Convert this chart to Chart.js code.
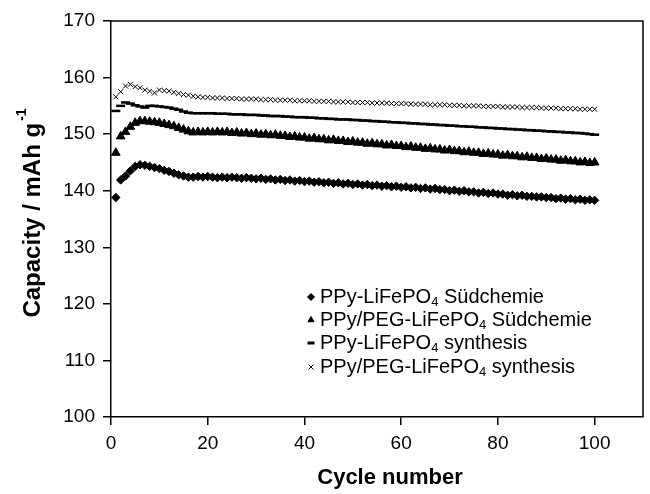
<!DOCTYPE html>
<html>
<head>
<meta charset="utf-8">
<script src="https://cdn.jsdelivr.net/npm/chart.js@4.4.0/dist/chart.umd.min.js"></script>
<style>
  html, body { margin: 0; padding: 0; background: #fff; }
  #wrap { width: 650px; height: 494px; }
</style>
</head>
<body>
<div id="wrap"><canvas id="mycanvas" width="650" height="494"></canvas></div>
<script>
var cycles = [1,2,3,4,5,6,7,8,9,10,11,12,13,14,15,16,17,18,19,20,
  21,22,23,24,25,26,27,28,29,30,31,32,33,34,35,36,37,38,39,40,
  41,42,43,44,45,46,47,48,49,50,51,52,53,54,55,56,57,58,59,60,
  61,62,63,64,65,66,67,68,69,70,71,72,73,74,75,76,77,78,79,80,
  81,82,83,84,85,86,87,88,89,90,91,92,93,94,95,96,97,98,99,100];

// PPy-LiFePO4 Suedchemie (diamonds)
var ppySud = [138.8,141.9,142.6,143.5,144.3,144.6,144.5,144.3,144.1,143.9,
  143.6,143.4,143.1,142.8,142.6,142.4,142.4,142.5,142.4,142.5,
  142.4,142.3,142.4,142.3,142.4,142.3,142.2,142.3,142.2,142.1,
  142.2,142.0,142.1,141.9,142.0,141.8,141.9,141.7,141.8,141.6,
  141.7,141.5,141.6,141.4,141.5,141.3,141.4,141.2,141.3,141.1,
  141.2,141.0,141.1,140.9,141.0,140.8,140.9,140.7,140.8,140.6,
  140.7,140.5,140.6,140.4,140.5,140.3,140.4,140.2,140.2,140.0,
  140.1,139.9,140.0,139.8,139.8,139.6,139.7,139.5,139.6,139.4,
  139.4,139.2,139.3,139.1,139.2,139.0,139.0,138.9,138.9,138.8,
  138.8,138.6,138.7,138.5,138.6,138.4,138.5,138.3,138.4,138.3];

// PPy/PEG-LiFePO4 Suedchemie (triangles)
var pegSud = [146.7,149.6,150.4,151.3,152.0,152.3,152.3,152.2,152.1,152.0,
  151.8,151.6,151.4,151.1,150.8,150.5,150.3,150.4,150.3,150.4,
  150.3,150.4,150.3,150.4,150.2,150.3,150.1,150.2,150.0,150.1,
  149.9,150.0,149.8,149.9,149.7,149.7,149.5,149.6,149.4,149.4,
  149.2,149.3,149.1,149.1,148.9,149.0,148.8,148.8,148.6,148.7,
  148.5,148.5,148.3,148.4,148.2,148.2,148.0,148.1,147.9,147.9,
  147.7,147.8,147.6,147.6,147.4,147.5,147.3,147.3,147.1,147.2,
  147.0,147.0,146.8,146.9,146.7,146.7,146.5,146.6,146.4,146.4,
  146.2,146.3,146.1,146.1,145.9,146.0,145.8,145.8,145.6,145.7,
  145.5,145.5,145.3,145.4,145.2,145.2,145.0,145.1,144.9,145.0];

// PPy-LiFePO4 synthesis (dashes)
var ppySyn = [154.1,155.0,155.6,155.4,155.1,154.9,154.7,155.0,155.0,154.9,
  154.8,154.7,154.5,154.3,154.0,153.8,153.7,153.7,153.7,153.7,
  153.7,153.6,153.6,153.6,153.5,153.5,153.5,153.4,153.4,153.4,
  153.3,153.3,153.2,153.2,153.2,153.1,153.1,153.0,153.0,153.0,
  152.9,152.9,152.8,152.8,152.7,152.7,152.6,152.6,152.6,152.5,
  152.5,152.4,152.4,152.3,152.3,152.2,152.2,152.1,152.1,152.0,
  152.0,151.9,151.9,151.8,151.8,151.7,151.7,151.6,151.6,151.5,
  151.5,151.4,151.4,151.3,151.3,151.2,151.2,151.1,151.1,151.0,
  151.0,150.9,150.9,150.8,150.8,150.7,150.7,150.6,150.6,150.5,
  150.5,150.4,150.4,150.3,150.3,150.2,150.2,150.1,150.0,149.9];

// PPy/PEG-LiFePO4 synthesis (crosses)
var pegSyn = [156.6,157.5,158.5,158.8,158.4,158.2,157.8,157.6,157.3,157.8,
  157.7,157.6,157.4,157.2,157.0,156.9,156.7,156.6,156.5,156.5,
  156.4,156.4,156.4,156.3,156.3,156.3,156.2,156.2,156.2,156.2,
  156.1,156.1,156.1,156.0,156.0,156.0,156.0,155.9,155.9,155.9,
  155.9,155.8,155.8,155.8,155.8,155.7,155.7,155.7,155.7,155.6,
  155.6,155.6,155.6,155.5,155.5,155.5,155.5,155.4,155.4,155.4,
  155.4,155.3,155.3,155.3,155.3,155.2,155.2,155.2,155.2,155.1,
  155.1,155.1,155.0,155.0,155.0,155.0,154.9,154.9,154.9,154.9,
  154.8,154.8,154.8,154.8,154.7,154.7,154.7,154.7,154.6,154.6,
  154.6,154.6,154.5,154.5,154.5,154.5,154.4,154.4,154.4,154.4];

var xTicks = [0, 20, 40, 60, 80, 100];
var yTicks = [100, 110, 120, 130, 140, 150, 160, 170];

var legendNames = [
  ['PPy-LiFePO', '4', ' S\u00fcdchemie'],
  ['PPy/PEG-LiFePO', '4', ' S\u00fcdchemie'],
  ['PPy-LiFePO', '4', ' synthesis'],
  ['PPy/PEG-LiFePO', '4', ' synthesis']
];

var FONT = "'Liberation Sans', Arial, Helvetica, sans-serif";

function pts(vals) {
  return cycles.map(function(c, i) { return {x: c, y: vals[i]}; });
}

var styles = [
  {pointStyle: 'rectRot', radius: 4.2, borderWidth: 1},
  {pointStyle: 'triangle', radius: 5, borderWidth: 1},
  {pointStyle: 'line', radius: 4.5, borderWidth: 2.5},
  {pointStyle: 'crossRot', radius: 3.5, borderWidth: 1}
];

var series = [ppySud, pegSud, ppySyn, pegSyn];

var chartdata = {
  datasets: series.map(function(vals, i) {
    return {
      label: legendNames[i].join(''),
      data: pts(vals),
      showLine: false,
      pointStyle: styles[i].pointStyle,
      pointRadius: styles[i].radius,
      pointBorderWidth: styles[i].borderWidth,
      pointBackgroundColor: '#000',
      pointBorderColor: '#000'
    };
  })
};

// box round the plot, axis titles, legend
var extras = {
  id: 'extras',
  afterDraw: function(chart) {
    var ctx = chart.ctx;
    var a = chart.chartArea;
    ctx.save();
    ctx.strokeStyle = '#000';
    ctx.lineWidth = 1.5;
    ctx.beginPath();
    ctx.moveTo(a.left, a.top);
    ctx.lineTo(a.right, a.top);
    ctx.lineTo(a.right, a.bottom);
    ctx.stroke();

    // x title
    ctx.fillStyle = '#000';
    ctx.font = 'bold 22px ' + FONT;
    ctx.textAlign = 'center';
    ctx.textBaseline = 'middle';
    ctx.fillText('Cycle number', 390, 478);

    // y title with superscript
    ctx.textAlign = 'left';
    ctx.translate(32, 213);
    ctx.rotate(-Math.PI / 2);
    ctx.font = 'bold 24px ' + FONT;
    var main = 'Capacity / mAh g';
    var w1 = ctx.measureText(main).width;
    ctx.font = 'bold 14px ' + FONT;
    var w2 = ctx.measureText('-1').width;
    var x0 = -(w1 + w2 + 2) / 2;
    ctx.textBaseline = 'alphabetic';
    ctx.font = 'bold 24px ' + FONT;
    ctx.fillText(main, x0, 8);
    ctx.font = 'bold 14px ' + FONT;
    ctx.fillText('-1', x0 + w1 + 2, -6);
    ctx.restore();

    // legend
    ctx.save();
    var lx = 311, ly = [297, 320, 343, 367];
    for (var i = 0; i < 4; i++) {
      ctx.fillStyle = '#000';
      ctx.strokeStyle = '#000';
      ctx.lineWidth = i === 2 ? 3 : 1;
      Chart.helpers.drawPoint(ctx, {
        pointStyle: styles[i].pointStyle,
        radius: i === 2 ? 3.5 : 3.5,
        borderWidth: ctx.lineWidth,
        rotation: 0
      }, lx, ly[i]);
      ctx.textBaseline = 'middle';
      var tx = lx + 9;
      ctx.font = '20px ' + FONT;
      ctx.fillText(legendNames[i][0], tx, ly[i]);
      tx += ctx.measureText(legendNames[i][0]).width;
      ctx.font = '13px ' + FONT;
      ctx.fillText(legendNames[i][1], tx, ly[i] + 5);
      tx += ctx.measureText(legendNames[i][1]).width;
      ctx.font = '20px ' + FONT;
      ctx.fillText(legendNames[i][2], tx, ly[i]);
    }
    ctx.restore();
  }
};

var ctx = document.getElementById('mycanvas');
Chart.defaults.font.family = FONT;
Chart.defaults.color = '#000';

var chart = new Chart(ctx, {
  type: 'scatter',
  data: chartdata,
  options: {
    responsive: false,
    animation: false,
    layout: { padding: { top: 21, right: 2, left: 0, bottom: 0 } },
    plugins: {
      legend: { display: false },
      tooltip: { enabled: false }
    },
    scales: {
      x: {
        type: 'linear',
        min: 0,
        max: 110,
        afterBuildTicks: function(s) {
          s.ticks = xTicks.map(function(v) { return {value: v}; });
        },
        afterFit: function(s) { s.height = 77; },
        ticks: { color: '#000', font: { size: 19 }, padding: 7, maxRotation: 0 },
        grid: { display: true, drawOnChartArea: false, drawTicks: true, tickLength: 8, color: '#000', lineWidth: 1.5 },
        border: { display: true, color: '#000', width: 1.5 }
      },
      y: {
        type: 'linear',
        min: 100,
        max: 170,
        afterBuildTicks: function(s) {
          s.ticks = yTicks.map(function(v) { return {value: v}; });
        },
        afterFit: function(s) { s.width = 111; },
        ticks: { color: '#000', font: { size: 19 }, padding: 8 },
        grid: { display: true, drawOnChartArea: false, drawTicks: true, tickLength: 8, color: '#000', lineWidth: 1.5 },
        border: { display: true, color: '#000', width: 1.5 }
      }
    }
  },
  plugins: [extras]
});
</script>
</body>
</html>
